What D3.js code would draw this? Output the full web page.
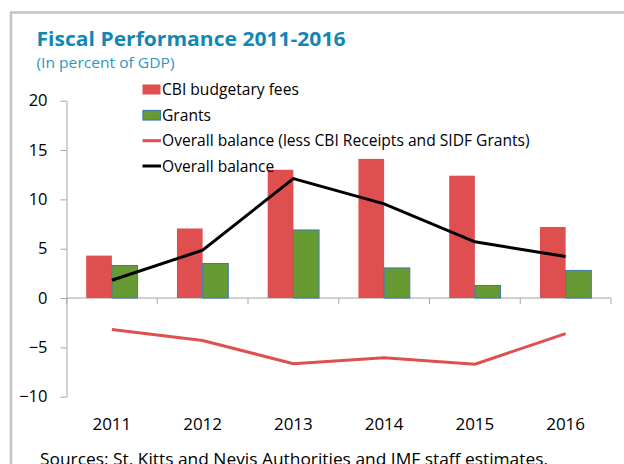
<!DOCTYPE html>
<html><head><meta charset="utf-8">
<script src="https://cdn.jsdelivr.net/npm/d3@7"></script>
<style>body{margin:0;background:#fff;}svg{display:block;}</style>
</head><body>
<svg id="c" width="624" height="464"></svg>
<script>
const years = ["2011","2012","2013","2014","2015","2016"];
const cbiFees = [4.3, 7.05, 13.0, 14.1, 12.4, 7.2];
const grants = [3.3, 3.5, 6.9, 3.05, 1.27, 2.8];
const balanceLessCBI = [-3.2, -4.3, -6.65, -6.05, -6.7, -3.6];
const overallBalance = [1.8, 4.85, 12.1, 9.55, 5.7, 4.2];
const yTicks = [-10, -5, 0, 5, 10, 15, 20];
const legendLabels = ["CBI budgetary fees","Grants","Overall balance (less CBI Receipts and SIDF Grants)","Overall balance"];

const svg = d3.select("#c");
const font = "'Open Sans', sans-serif";
const red = "#df4f4f", green = "#679a33", greenEdge = "#3c78b0", blue = "#1187b5";

// frame
svg.append("rect").attr("x", 11).attr("y", 12.5).attr("width", 640).attr("height", 480)
  .attr("fill", "none").attr("stroke", "#c4c4c4").attr("stroke-width", 2.5);

svg.append("text").attr("x", 36.5).attr("y", 46).attr("fill", blue)
  .attr("font-family", font).attr("font-weight", "bold").attr("font-size", 20)
  .attr("textLength", 309).attr("lengthAdjust", "spacingAndGlyphs")
  .text("Fiscal Performance 2011-2016");
svg.append("text").attr("x", 36.5).attr("y", 68).attr("fill", "#2b97c6")
  .attr("font-family", font).attr("font-size", 14)
  .attr("textLength", 138).attr("lengthAdjust", "spacingAndGlyphs")
  .text("(In percent of GDP)");

const x = d3.scaleBand().domain(years).range([66.5, 611]).paddingInner(0).paddingOuter(0);
const y = d3.scaleLinear().domain([-10, 20]).range([396.7, 100.7]);
const bw = x.bandwidth() * 0.283;

// y axis
const yAxis = svg.append("g").attr("transform", "translate(66.5,0)")
  .call(d3.axisLeft(y).tickValues(yTicks).tickSize(6).tickPadding(13).tickSizeOuter(0));
yAxis.select(".domain").attr("stroke", "#a6a6a6");
yAxis.selectAll(".tick line").attr("stroke", "#a6a6a6");
yAxis.selectAll(".tick text").attr("font-family", font).attr("font-size", 16.5).attr("fill", "#000");

// x axis at zero
const xAxisG = svg.append("g").attr("transform", `translate(0,${y(0)})`);
xAxisG.append("line").attr("x1", 66.5).attr("x2", 611).attr("stroke", "#a6a6a6");
const bounds = years.map(d => x(d)).concat([x(years[years.length-1]) + x.bandwidth()]);
xAxisG.selectAll("line.tk").data(bounds).enter().append("line").attr("class","tk")
  .attr("x1", d => d).attr("x2", d => d).attr("y1", 0).attr("y2", 6).attr("stroke", "#a6a6a6");

// x labels
svg.append("g").selectAll("text").data(years).enter().append("text")
  .attr("x", d => x(d) + x.bandwidth()/2).attr("y", 430)
  .attr("text-anchor", "middle").attr("font-family", font).attr("font-size", 17)
  .text(d => d);

// bars
const cx = d => x(d) + x.bandwidth()/2;
svg.append("g").selectAll("rect").data(years).enter().append("rect")
  .attr("x", d => cx(d) - bw).attr("width", bw)
  .attr("y", (d,i) => y(cbiFees[i])).attr("height", (d,i) => y(0) - y(cbiFees[i]))
  .attr("fill", red);
svg.append("g").selectAll("rect").data(years).enter().append("rect")
  .attr("x", d => cx(d)).attr("width", bw)
  .attr("y", (d,i) => y(grants[i])).attr("height", (d,i) => y(0) - y(grants[i]))
  .attr("fill", green).attr("stroke", greenEdge).attr("stroke-width", 1);

const line = d3.line().x((d,i) => cx(years[i])).y(d => y(d));
svg.append("path").datum(balanceLessCBI).attr("d", line).attr("fill", "none")
  .attr("stroke", red).attr("stroke-width", 3);
svg.append("path").datum(overallBalance).attr("d", line).attr("fill", "none")
  .attr("stroke", "#000").attr("stroke-width", 3);

// legend
const lg = svg.append("g");
const rowY = [89.5, 115, 140.7, 166];
lg.append("rect").attr("x", 142.5).attr("y", rowY[0]-5).attr("width", 18).attr("height", 10).attr("fill", red);
lg.append("rect").attr("x", 143).attr("y", rowY[1]-4.5).attr("width", 17.5).attr("height", 9.5).attr("fill", green).attr("stroke", greenEdge).attr("stroke-width", 1.2);
lg.append("line").attr("x1", 142.5).attr("x2", 161).attr("y1", rowY[2]).attr("y2", rowY[2]).attr("stroke", red).attr("stroke-width", 3);
lg.append("line").attr("x1", 142.5).attr("x2", 161).attr("y1", rowY[3]).attr("y2", rowY[3]).attr("stroke", "#000").attr("stroke-width", 3);
lg.selectAll("text").data(legendLabels).enter().append("text")
  .attr("x", 162).attr("y", (d,i) => rowY[i] + 5.5)
  .attr("font-family", font).attr("font-size", 15.6).attr("fill", "#000")
  .text(d => d);

svg.append("text").attr("x", 40).attr("y", 465).attr("font-family", font).attr("font-size", 17)
  .attr("textLength", 508).attr("lengthAdjust", "spacingAndGlyphs")
  .text("Sources: St. Kitts and Nevis Authorities and IMF staff estimates.");
</script>
</body></html>
